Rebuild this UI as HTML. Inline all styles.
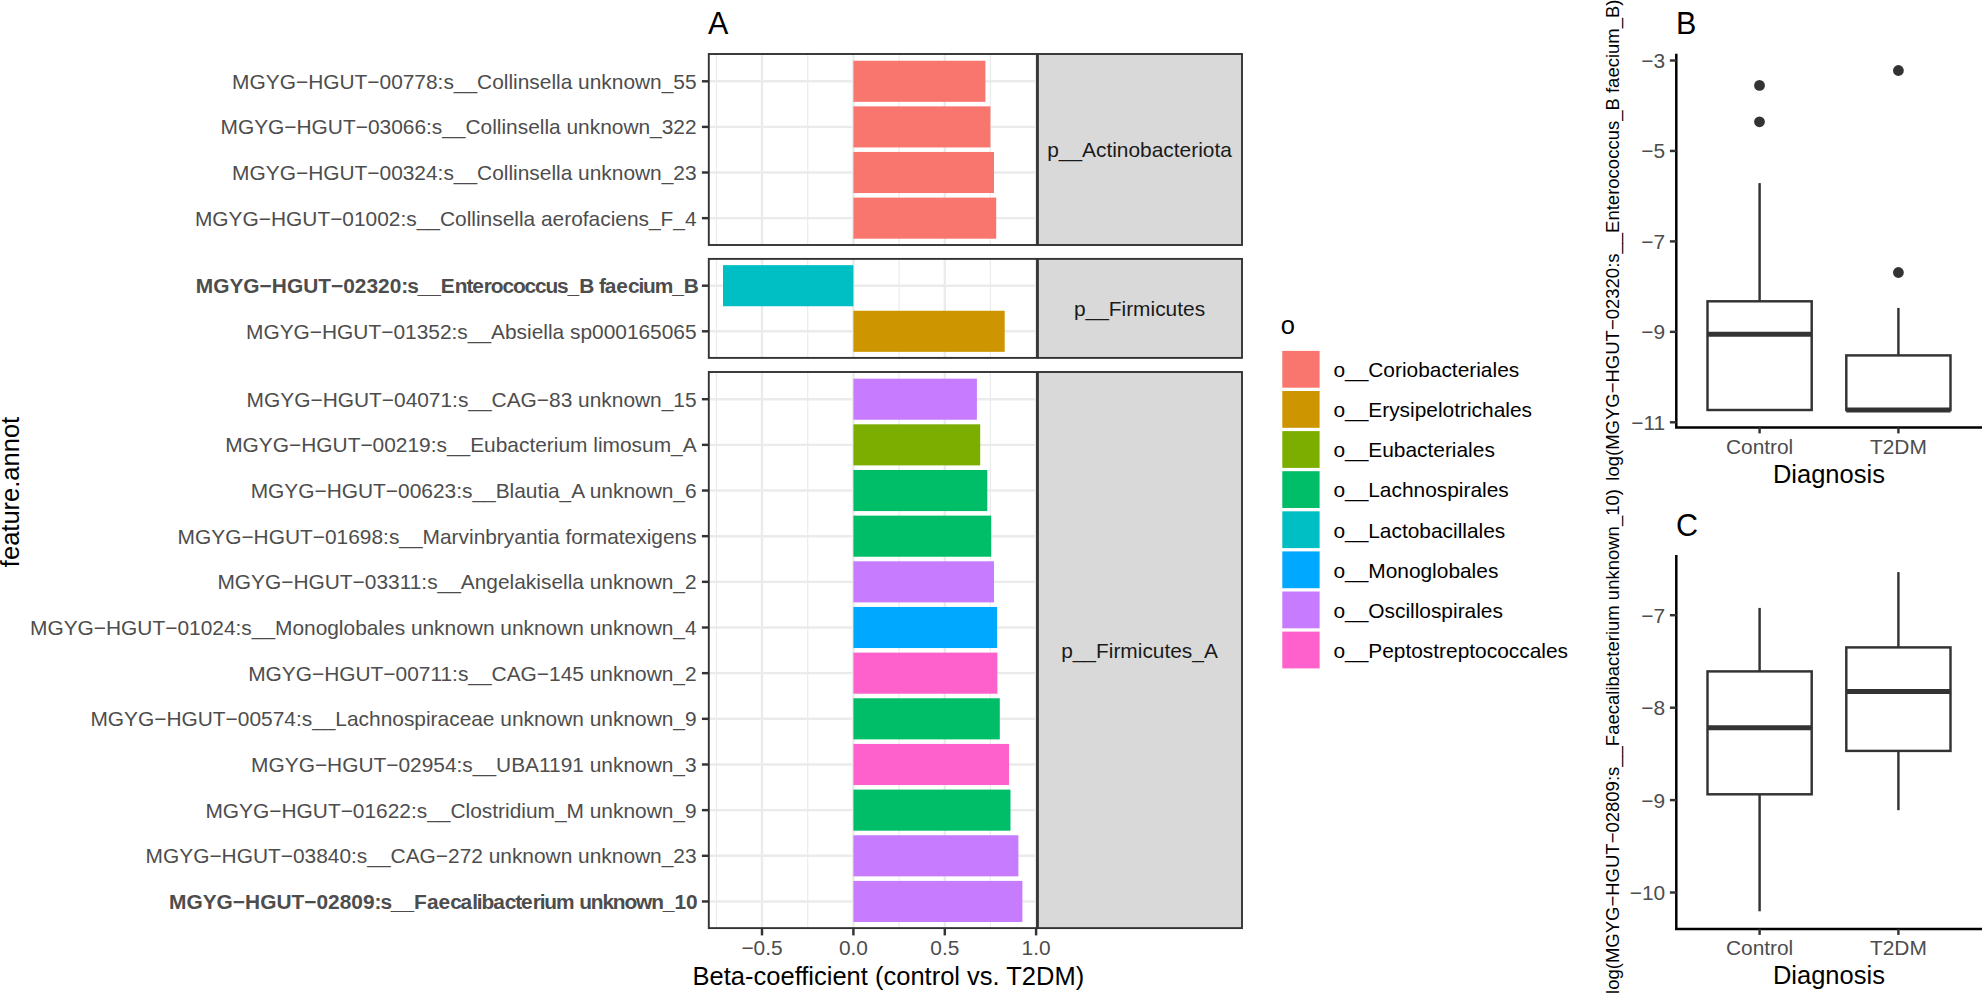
<!DOCTYPE html>
<html lang="en"><head><meta charset="utf-8"><title>Figure</title>
<style>
html,body{margin:0;padding:0;background:#fff}
svg{display:block;font-family:"Liberation Sans",sans-serif}
text{white-space:pre}
</style></head><body>
<svg width="1982" height="994" viewBox="0 0 1982 994">
<rect width="1982" height="994" fill="#fff"/>
<rect x="1037.9" y="54.0" width="204.10" height="191.0" fill="#d9d9d9" stroke="#333333" stroke-width="1.9"/>
<rect x="1037.9" y="258.9" width="204.10" height="99.0" fill="#d9d9d9" stroke="#333333" stroke-width="1.9"/>
<rect x="1037.9" y="372.0" width="204.10" height="556.1" fill="#d9d9d9" stroke="#333333" stroke-width="1.9"/>
<line x1="716.4" x2="716.4" y1="54.0" y2="245.0" stroke="#ebebeb" stroke-width="1.2"/>
<line x1="807.7" x2="807.7" y1="54.0" y2="245.0" stroke="#ebebeb" stroke-width="1.2"/>
<line x1="899.1" x2="899.1" y1="54.0" y2="245.0" stroke="#ebebeb" stroke-width="1.2"/>
<line x1="990.4" x2="990.4" y1="54.0" y2="245.0" stroke="#ebebeb" stroke-width="1.2"/>
<line x1="762.0" x2="762.0" y1="54.0" y2="245.0" stroke="#ebebeb" stroke-width="2.4"/>
<line x1="853.4" x2="853.4" y1="54.0" y2="245.0" stroke="#ebebeb" stroke-width="2.4"/>
<line x1="944.8" x2="944.8" y1="54.0" y2="245.0" stroke="#ebebeb" stroke-width="2.4"/>
<line x1="1036.1" x2="1036.1" y1="54.0" y2="245.0" stroke="#ebebeb" stroke-width="2.4"/>
<line x1="716.4" x2="716.4" y1="258.9" y2="357.9" stroke="#ebebeb" stroke-width="1.2"/>
<line x1="807.7" x2="807.7" y1="258.9" y2="357.9" stroke="#ebebeb" stroke-width="1.2"/>
<line x1="899.1" x2="899.1" y1="258.9" y2="357.9" stroke="#ebebeb" stroke-width="1.2"/>
<line x1="990.4" x2="990.4" y1="258.9" y2="357.9" stroke="#ebebeb" stroke-width="1.2"/>
<line x1="762.0" x2="762.0" y1="258.9" y2="357.9" stroke="#ebebeb" stroke-width="2.4"/>
<line x1="853.4" x2="853.4" y1="258.9" y2="357.9" stroke="#ebebeb" stroke-width="2.4"/>
<line x1="944.8" x2="944.8" y1="258.9" y2="357.9" stroke="#ebebeb" stroke-width="2.4"/>
<line x1="1036.1" x2="1036.1" y1="258.9" y2="357.9" stroke="#ebebeb" stroke-width="2.4"/>
<line x1="716.4" x2="716.4" y1="372.0" y2="928.1" stroke="#ebebeb" stroke-width="1.2"/>
<line x1="807.7" x2="807.7" y1="372.0" y2="928.1" stroke="#ebebeb" stroke-width="1.2"/>
<line x1="899.1" x2="899.1" y1="372.0" y2="928.1" stroke="#ebebeb" stroke-width="1.2"/>
<line x1="990.4" x2="990.4" y1="372.0" y2="928.1" stroke="#ebebeb" stroke-width="1.2"/>
<line x1="762.0" x2="762.0" y1="372.0" y2="928.1" stroke="#ebebeb" stroke-width="2.4"/>
<line x1="853.4" x2="853.4" y1="372.0" y2="928.1" stroke="#ebebeb" stroke-width="2.4"/>
<line x1="944.8" x2="944.8" y1="372.0" y2="928.1" stroke="#ebebeb" stroke-width="2.4"/>
<line x1="1036.1" x2="1036.1" y1="372.0" y2="928.1" stroke="#ebebeb" stroke-width="2.4"/>
<line x1="708.8" x2="1036.95" y1="81.30" y2="81.30" stroke="#ebebeb" stroke-width="2.4"/>
<line x1="708.8" x2="1036.95" y1="126.90" y2="126.90" stroke="#ebebeb" stroke-width="2.4"/>
<line x1="708.8" x2="1036.95" y1="172.50" y2="172.50" stroke="#ebebeb" stroke-width="2.4"/>
<line x1="708.8" x2="1036.95" y1="218.15" y2="218.15" stroke="#ebebeb" stroke-width="2.4"/>
<line x1="708.8" x2="1036.95" y1="285.70" y2="285.70" stroke="#ebebeb" stroke-width="2.4"/>
<line x1="708.8" x2="1036.95" y1="331.30" y2="331.30" stroke="#ebebeb" stroke-width="2.4"/>
<line x1="708.8" x2="1036.95" y1="399.20" y2="399.20" stroke="#ebebeb" stroke-width="2.4"/>
<line x1="708.8" x2="1036.95" y1="444.86" y2="444.86" stroke="#ebebeb" stroke-width="2.4"/>
<line x1="708.8" x2="1036.95" y1="490.52" y2="490.52" stroke="#ebebeb" stroke-width="2.4"/>
<line x1="708.8" x2="1036.95" y1="536.18" y2="536.18" stroke="#ebebeb" stroke-width="2.4"/>
<line x1="708.8" x2="1036.95" y1="581.84" y2="581.84" stroke="#ebebeb" stroke-width="2.4"/>
<line x1="708.8" x2="1036.95" y1="627.50" y2="627.50" stroke="#ebebeb" stroke-width="2.4"/>
<line x1="708.8" x2="1036.95" y1="673.16" y2="673.16" stroke="#ebebeb" stroke-width="2.4"/>
<line x1="708.8" x2="1036.95" y1="718.82" y2="718.82" stroke="#ebebeb" stroke-width="2.4"/>
<line x1="708.8" x2="1036.95" y1="764.48" y2="764.48" stroke="#ebebeb" stroke-width="2.4"/>
<line x1="708.8" x2="1036.95" y1="810.14" y2="810.14" stroke="#ebebeb" stroke-width="2.4"/>
<line x1="708.8" x2="1036.95" y1="855.80" y2="855.80" stroke="#ebebeb" stroke-width="2.4"/>
<line x1="708.8" x2="1036.95" y1="901.46" y2="901.46" stroke="#ebebeb" stroke-width="2.4"/>
<rect x="853.4" y="60.75" width="132.0" height="41.1" fill="#F8766D"/>
<rect x="853.4" y="106.35" width="137.0" height="41.1" fill="#F8766D"/>
<rect x="853.4" y="151.95" width="140.6" height="41.1" fill="#F8766D"/>
<rect x="853.4" y="197.60" width="142.8" height="41.1" fill="#F8766D"/>
<rect x="723.0" y="265.15" width="130.4" height="41.1" fill="#00BFC4"/>
<rect x="853.4" y="310.75" width="151.3" height="41.1" fill="#CD9600"/>
<rect x="853.4" y="378.65" width="123.5" height="41.1" fill="#C77CFF"/>
<rect x="853.4" y="424.31" width="126.8" height="41.1" fill="#7CAE00"/>
<rect x="853.4" y="469.97" width="133.9" height="41.1" fill="#00BE67"/>
<rect x="853.4" y="515.63" width="137.8" height="41.1" fill="#00BE67"/>
<rect x="853.4" y="561.29" width="140.6" height="41.1" fill="#C77CFF"/>
<rect x="853.4" y="606.95" width="143.7" height="41.1" fill="#00A9FF"/>
<rect x="853.4" y="652.61" width="144.0" height="41.1" fill="#FF61CC"/>
<rect x="853.4" y="698.27" width="146.4" height="41.1" fill="#00BE67"/>
<rect x="853.4" y="743.93" width="155.6" height="41.1" fill="#FF61CC"/>
<rect x="853.4" y="789.59" width="157.1" height="41.1" fill="#00BE67"/>
<rect x="853.4" y="835.25" width="165.0" height="41.1" fill="#C77CFF"/>
<rect x="853.4" y="880.91" width="169.0" height="41.1" fill="#C77CFF"/>
<rect x="708.8" y="54.0" width="328.2" height="191.0" fill="none" stroke="#333333" stroke-width="1.9"/>
<rect x="708.8" y="258.9" width="328.2" height="99.0" fill="none" stroke="#333333" stroke-width="1.9"/>
<rect x="708.8" y="372.0" width="328.2" height="556.1" fill="none" stroke="#333333" stroke-width="1.9"/>
<line x1="701.9" x2="708.8" y1="81.30" y2="81.30" stroke="#333333" stroke-width="2.45"/>
<text x="696.6" y="88.70" text-anchor="end" font-size="20.9" fill="#4d4d4d">MGYG−HGUT−00778:s__Collinsella unknown_55</text>
<line x1="701.9" x2="708.8" y1="126.90" y2="126.90" stroke="#333333" stroke-width="2.45"/>
<text x="696.6" y="134.30" text-anchor="end" font-size="20.9" fill="#4d4d4d">MGYG−HGUT−03066:s__Collinsella unknown_322</text>
<line x1="701.9" x2="708.8" y1="172.50" y2="172.50" stroke="#333333" stroke-width="2.45"/>
<text x="696.6" y="179.90" text-anchor="end" font-size="20.9" fill="#4d4d4d">MGYG−HGUT−00324:s__Collinsella unknown_23</text>
<line x1="701.9" x2="708.8" y1="218.15" y2="218.15" stroke="#333333" stroke-width="2.45"/>
<text x="696.6" y="225.55" text-anchor="end" font-size="20.9" fill="#4d4d4d">MGYG−HGUT−01002:s__Collinsella aerofaciens_F_4</text>
<line x1="701.9" x2="708.8" y1="285.70" y2="285.70" stroke="#333333" stroke-width="2.45"/>
<text x="195.76" y="293.10" dx="0 0.00 0.00 0.00 0.00 0.00 0.00 0.00 0.00 0.00 0.00 0.00 0.00 0.00 0.00 0.00 -1.15 -1.17 0.00 0.00 0.00 -1.14 -1.15 0.00 -1.17 -1.14 -1.17 -1.14 -1.17 -1.17 -1.14 -1.17 0.00 -1.15 0.00 -1.15 0.00 0.00 -1.17 -1.16 -1.14 -1.17 0.00" font-size="20.9" font-weight="bold" fill="#4d4d4d" style="font-kerning:none">MGYG−HGUT−02320:s__Enterococcus_B faecium_B</text>
<line x1="701.9" x2="708.8" y1="331.30" y2="331.30" stroke="#333333" stroke-width="2.45"/>
<text x="696.6" y="338.70" text-anchor="end" font-size="20.9" fill="#4d4d4d">MGYG−HGUT−01352:s__Absiella sp000165065</text>
<line x1="701.9" x2="708.8" y1="399.20" y2="399.20" stroke="#333333" stroke-width="2.45"/>
<text x="696.6" y="406.60" text-anchor="end" font-size="20.9" fill="#4d4d4d">MGYG−HGUT−04071:s__CAG−83 unknown_15</text>
<line x1="701.9" x2="708.8" y1="444.86" y2="444.86" stroke="#333333" stroke-width="2.45"/>
<text x="696.6" y="452.26" text-anchor="end" font-size="20.9" fill="#4d4d4d">MGYG−HGUT−00219:s__Eubacterium limosum_A</text>
<line x1="701.9" x2="708.8" y1="490.52" y2="490.52" stroke="#333333" stroke-width="2.45"/>
<text x="696.6" y="497.92" text-anchor="end" font-size="20.9" fill="#4d4d4d">MGYG−HGUT−00623:s__Blautia_A unknown_6</text>
<line x1="701.9" x2="708.8" y1="536.18" y2="536.18" stroke="#333333" stroke-width="2.45"/>
<text x="696.6" y="543.58" text-anchor="end" font-size="20.9" fill="#4d4d4d">MGYG−HGUT−01698:s__Marvinbryantia formatexigens</text>
<line x1="701.9" x2="708.8" y1="581.84" y2="581.84" stroke="#333333" stroke-width="2.45"/>
<text x="696.6" y="589.24" text-anchor="end" font-size="20.9" fill="#4d4d4d">MGYG−HGUT−03311:s__Angelakisella unknown_2</text>
<line x1="701.9" x2="708.8" y1="627.50" y2="627.50" stroke="#333333" stroke-width="2.45"/>
<text x="696.6" y="634.90" text-anchor="end" font-size="20.9" fill="#4d4d4d">MGYG−HGUT−01024:s__Monoglobales unknown unknown unknown_4</text>
<line x1="701.9" x2="708.8" y1="673.16" y2="673.16" stroke="#333333" stroke-width="2.45"/>
<text x="696.6" y="680.56" text-anchor="end" font-size="20.9" fill="#4d4d4d">MGYG−HGUT−00711:s__CAG−145 unknown_2</text>
<line x1="701.9" x2="708.8" y1="718.82" y2="718.82" stroke="#333333" stroke-width="2.45"/>
<text x="696.6" y="726.22" text-anchor="end" font-size="20.9" fill="#4d4d4d">MGYG−HGUT−00574:s__Lachnospiraceae unknown unknown_9</text>
<line x1="701.9" x2="708.8" y1="764.48" y2="764.48" stroke="#333333" stroke-width="2.45"/>
<text x="696.6" y="771.88" text-anchor="end" font-size="20.9" fill="#4d4d4d">MGYG−HGUT−02954:s__UBA1191 unknown_3</text>
<line x1="701.9" x2="708.8" y1="810.14" y2="810.14" stroke="#333333" stroke-width="2.45"/>
<text x="696.6" y="817.54" text-anchor="end" font-size="20.9" fill="#4d4d4d">MGYG−HGUT−01622:s__Clostridium_M unknown_9</text>
<line x1="701.9" x2="708.8" y1="855.80" y2="855.80" stroke="#333333" stroke-width="2.45"/>
<text x="696.6" y="863.20" text-anchor="end" font-size="20.9" fill="#4d4d4d">MGYG−HGUT−03840:s__CAG−272 unknown unknown_23</text>
<line x1="701.9" x2="708.8" y1="901.46" y2="901.46" stroke="#333333" stroke-width="2.45"/>
<text x="169.02" y="908.86" dx="0 0.00 0.00 0.00 0.00 0.00 0.00 0.00 0.00 0.00 0.00 0.00 0.00 0.00 0.00 0.00 -1.15 -1.17 0.00 0.00 0.00 0.00 0.00 -1.17 0.00 -1.16 -1.16 -1.14 0.00 -1.17 -1.15 0.00 -1.17 -1.16 -1.14 -1.17 0.00 -1.14 -1.14 -1.17 -1.14 -1.14 -1.16 -1.14 0.00 0.00" font-size="20.9" font-weight="bold" fill="#4d4d4d" style="font-kerning:none">MGYG−HGUT−02809:s__Faecalibacterium unknown_10</text>
<line x1="762.0" x2="762.0" y1="928.1" y2="935.4" stroke="#333333" stroke-width="2.45"/>
<text x="762.0" y="955.1" text-anchor="middle" font-size="20.9" fill="#4d4d4d">−0.5</text>
<line x1="853.4" x2="853.4" y1="928.1" y2="935.4" stroke="#333333" stroke-width="2.45"/>
<text x="853.4" y="955.1" text-anchor="middle" font-size="20.9" fill="#4d4d4d">0.0</text>
<line x1="944.8" x2="944.8" y1="928.1" y2="935.4" stroke="#333333" stroke-width="2.45"/>
<text x="944.8" y="955.1" text-anchor="middle" font-size="20.9" fill="#4d4d4d">0.5</text>
<line x1="1036.1" x2="1036.1" y1="928.1" y2="935.4" stroke="#333333" stroke-width="2.45"/>
<text x="1036.1" y="955.1" text-anchor="middle" font-size="20.9" fill="#4d4d4d">1.0</text>
<text x="1139.5" y="157.30" text-anchor="middle" font-size="20.9" fill="#1a1a1a">p__Actinobacteriota</text>
<text x="1139.5" y="316.20" text-anchor="middle" font-size="20.9" fill="#1a1a1a">p__Firmicutes</text>
<text x="1139.5" y="657.85" text-anchor="middle" font-size="20.9" fill="#1a1a1a">p__Firmicutes_A</text>
<text x="888.4" y="985.0" text-anchor="middle" font-size="25.5" fill="#000">Beta-coefficient (control vs. T2DM)</text>
<text transform="translate(18.8 492.0) rotate(-90)" text-anchor="middle" font-size="25.5" fill="#000">feature.annot</text>
<text x="708.1" y="33.9" font-size="30.5" fill="#000">A</text>
<text x="1280.8" y="333.9" font-size="25.5" fill="#000">o</text>
<rect x="1282.3" y="350.90" width="37.3" height="36.8" fill="#F8766D"/>
<text x="1333.4" y="377.10" font-size="20.9" fill="#000">o__Coriobacteriales</text>
<rect x="1282.3" y="391.00" width="37.3" height="36.8" fill="#CD9600"/>
<text x="1333.4" y="417.20" font-size="20.9" fill="#000">o__Erysipelotrichales</text>
<rect x="1282.3" y="431.10" width="37.3" height="36.8" fill="#7CAE00"/>
<text x="1333.4" y="457.30" font-size="20.9" fill="#000">o__Eubacteriales</text>
<rect x="1282.3" y="471.20" width="37.3" height="36.8" fill="#00BE67"/>
<text x="1333.4" y="497.40" font-size="20.9" fill="#000">o__Lachnospirales</text>
<rect x="1282.3" y="511.30" width="37.3" height="36.8" fill="#00BFC4"/>
<text x="1333.4" y="537.50" font-size="20.9" fill="#000">o__Lactobacillales</text>
<rect x="1282.3" y="551.40" width="37.3" height="36.8" fill="#00A9FF"/>
<text x="1333.4" y="577.60" font-size="20.9" fill="#000">o__Monoglobales</text>
<rect x="1282.3" y="591.50" width="37.3" height="36.8" fill="#C77CFF"/>
<text x="1333.4" y="617.70" font-size="20.9" fill="#000">o__Oscillospirales</text>
<rect x="1282.3" y="631.60" width="37.3" height="36.8" fill="#FF61CC"/>
<text x="1333.4" y="657.80" font-size="20.9" fill="#000">o__Peptostreptococcales</text>
<line x1="1759.6" x2="1759.6" y1="183.1" y2="301.3" stroke="#333333" stroke-width="2.45"/>
<rect x="1707.5" y="301.3" width="104.2" height="108.7" fill="#fff" stroke="#333333" stroke-width="2.45"/>
<line x1="1707.5" x2="1811.7" y1="334.3" y2="334.3" stroke="#333333" stroke-width="4.9"/>
<line x1="1898.4" x2="1898.4" y1="307.9" y2="355.4" stroke="#333333" stroke-width="2.45"/>
<rect x="1846.3" y="355.4" width="104.2" height="54.6" fill="#fff" stroke="#333333" stroke-width="2.45"/>
<line x1="1846.3" x2="1950.5" y1="410.0" y2="410.0" stroke="#333333" stroke-width="4.9"/>
<circle cx="1759.5" cy="85.4" r="5.4" fill="#333333"/>
<circle cx="1759.5" cy="121.8" r="5.4" fill="#333333"/>
<circle cx="1898.4" cy="70.5" r="5.4" fill="#333333"/>
<circle cx="1898.4" cy="272.5" r="5.4" fill="#333333"/>
<path d="M1676.3 53.8V427.4H1983" fill="none" stroke="#000" stroke-width="2.5"/>
<line x1="1669.9" x2="1676.3" y1="60.5" y2="60.5" stroke="#333333" stroke-width="2.45"/>
<text x="1665.2" y="67.90" text-anchor="end" font-size="20.9" fill="#4d4d4d">−3</text>
<line x1="1669.9" x2="1676.3" y1="150.95" y2="150.95" stroke="#333333" stroke-width="2.45"/>
<text x="1665.2" y="158.35" text-anchor="end" font-size="20.9" fill="#4d4d4d">−5</text>
<line x1="1669.9" x2="1676.3" y1="241.4" y2="241.4" stroke="#333333" stroke-width="2.45"/>
<text x="1665.2" y="248.80" text-anchor="end" font-size="20.9" fill="#4d4d4d">−7</text>
<line x1="1669.9" x2="1676.3" y1="331.85" y2="331.85" stroke="#333333" stroke-width="2.45"/>
<text x="1665.2" y="339.25" text-anchor="end" font-size="20.9" fill="#4d4d4d">−9</text>
<line x1="1669.9" x2="1676.3" y1="422.3" y2="422.3" stroke="#333333" stroke-width="2.45"/>
<text x="1665.2" y="429.70" text-anchor="end" font-size="20.9" fill="#4d4d4d">−11</text>
<line x1="1759.6" x2="1759.6" y1="427.4" y2="433.4" stroke="#333333" stroke-width="2.45"/>
<text x="1759.6" y="453.9" text-anchor="middle" font-size="20.9" fill="#4d4d4d">Control</text>
<line x1="1898.4" x2="1898.4" y1="427.4" y2="433.4" stroke="#333333" stroke-width="2.45"/>
<text x="1898.4" y="453.9" text-anchor="middle" font-size="20.9" fill="#4d4d4d">T2DM</text>
<text x="1828.9" y="483.2" text-anchor="middle" font-size="25.5" fill="#000">Diagnosis</text>
<text x="1676.0" y="33.8" font-size="30.5" fill="#000">B</text>
<text transform="translate(1619.3 240.1) rotate(-90)" text-anchor="middle" font-size="18.5" fill="#000">log(MGYG−HGUT−02320:s__Enterococcus_B faecium_B)</text>
<line x1="1759.6" x2="1759.6" y1="607.9" y2="671.4" stroke="#333333" stroke-width="2.45"/>
<line x1="1759.6" x2="1759.6" y1="794.3" y2="911.3" stroke="#333333" stroke-width="2.45"/>
<rect x="1707.5" y="671.4" width="104.2" height="122.9" fill="#fff" stroke="#333333" stroke-width="2.45"/>
<line x1="1707.5" x2="1811.7" y1="727.8" y2="727.8" stroke="#333333" stroke-width="4.9"/>
<line x1="1898.4" x2="1898.4" y1="572.1" y2="647.4" stroke="#333333" stroke-width="2.45"/>
<line x1="1898.4" x2="1898.4" y1="750.9" y2="810.2" stroke="#333333" stroke-width="2.45"/>
<rect x="1846.3" y="647.4" width="104.2" height="103.5" fill="#fff" stroke="#333333" stroke-width="2.45"/>
<line x1="1846.3" x2="1950.5" y1="691.5" y2="691.5" stroke="#333333" stroke-width="4.9"/>
<path d="M1676.3 555.1V928.9H1983" fill="none" stroke="#000" stroke-width="2.5"/>
<line x1="1669.9" x2="1676.3" y1="615.2" y2="615.2" stroke="#333333" stroke-width="2.45"/>
<text x="1665.2" y="622.60" text-anchor="end" font-size="20.9" fill="#4d4d4d">−7</text>
<line x1="1669.9" x2="1676.3" y1="707.7" y2="707.7" stroke="#333333" stroke-width="2.45"/>
<text x="1665.2" y="715.10" text-anchor="end" font-size="20.9" fill="#4d4d4d">−8</text>
<line x1="1669.9" x2="1676.3" y1="800.1" y2="800.1" stroke="#333333" stroke-width="2.45"/>
<text x="1665.2" y="807.50" text-anchor="end" font-size="20.9" fill="#4d4d4d">−9</text>
<line x1="1669.9" x2="1676.3" y1="892.5" y2="892.5" stroke="#333333" stroke-width="2.45"/>
<text x="1665.2" y="899.90" text-anchor="end" font-size="20.9" fill="#4d4d4d">−10</text>
<line x1="1759.6" x2="1759.6" y1="928.9" y2="934.9" stroke="#333333" stroke-width="2.45"/>
<text x="1759.6" y="954.5" text-anchor="middle" font-size="20.9" fill="#4d4d4d">Control</text>
<line x1="1898.4" x2="1898.4" y1="928.9" y2="934.9" stroke="#333333" stroke-width="2.45"/>
<text x="1898.4" y="954.5" text-anchor="middle" font-size="20.9" fill="#4d4d4d">T2DM</text>
<text x="1828.9" y="984.0" text-anchor="middle" font-size="25.5" fill="#000">Diagnosis</text>
<text x="1675.9" y="535.5" font-size="30.5" fill="#000">C</text>
<text transform="translate(1619.3 741.5) rotate(-90)" text-anchor="middle" font-size="18.5" fill="#000">log(MGYG−HGUT−02809:s__Faecalibacterium unknown_10)</text>
</svg>
</body></html>
